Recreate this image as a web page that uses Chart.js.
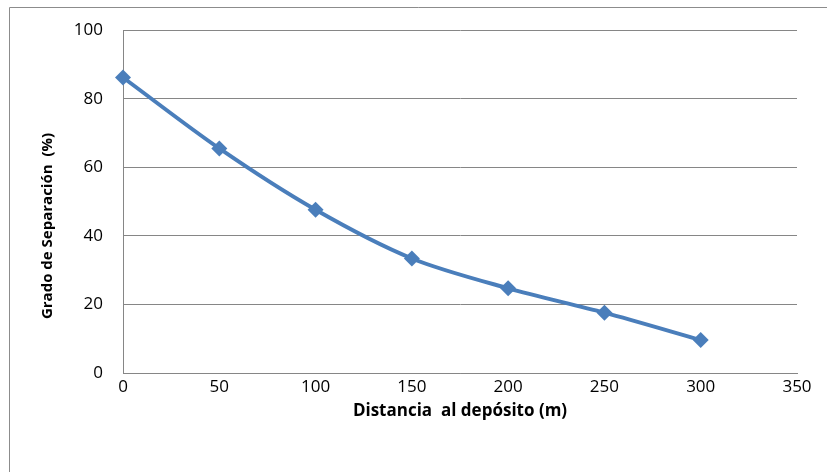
<!DOCTYPE html>
<html>
<head>
<meta charset="utf-8">
<script src="https://cdn.jsdelivr.net/npm/chart.js@4"></script>
<style>
html,body{margin:0;padding:0;background:#fff;}
#c{display:block;}
</style>
</head>
<body>
<canvas id="c" width="827" height="472"></canvas>
<script>
const distances = [0, 50, 100, 150, 200, 250, 300];
const separation = [86.2, 65.5, 47.6, 33.4, 24.7, 17.6, 9.6];
const xTitle = 'Distancia  al depósito (m)';
const yTitle = 'Grado de Separación  (%)';

const FONT = '"Open Sans", "Liberation Sans", sans-serif';

const framePlugin = {
  id: 'frame',
  beforeDraw(chart) {
    const ctx = chart.ctx;
    ctx.save();
    ctx.fillStyle = '#fff';
    ctx.fillRect(0, 0, chart.width, chart.height);
    ctx.strokeStyle = '#8c8c8c';
    ctx.lineWidth = 1;
    ctx.beginPath();
    ctx.moveTo(9.5, 480);
    ctx.lineTo(9.5, 7.5);
    ctx.lineTo(840, 7.5);
    ctx.stroke();
    ctx.restore();
  },
  afterDraw(chart) {
    const ctx = chart.ctx;
    ctx.save();
    ctx.translate(48, 226);
    ctx.rotate(-Math.PI / 2);
    ctx.fillStyle = '#000';
    ctx.font = 'bold 15px ' + FONT;
    ctx.textAlign = 'center';
    ctx.textBaseline = 'middle';
    ctx.fillText(yTitle, 0, 0);
    ctx.restore();
  }
};

new Chart(document.getElementById('c'), {
  type: 'line',
  data: {
    datasets: [{
      data: distances.map((x, i) => ({x: x, y: separation[i]})),
      borderColor: '#4a7ebb',
      backgroundColor: '#4a7ebb',
      borderWidth: 4,
      tension: 0.3,
      pointStyle: 'rectRot',
      pointRadius: 8,
      pointHoverRadius: 8,
      pointBorderWidth: 0,
      fill: false,
      clip: false
    }]
  },
  options: {
    responsive: false,
    animation: false,
    devicePixelRatio: 1,
    layout: {padding: {left: 10, right: 30, top: 29, bottom: 10}},
    plugins: {legend: {display: false}, tooltip: {enabled: false}},
    scales: {
      x: {
        type: 'linear',
        min: 0, max: 350,
        ticks: {stepSize: 50, color: '#000', font: {family: FONT, size: 17}, padding: 4},
        grid: {display: false, drawTicks: false},
        border: {display: true, color: '#868686', width: 1},
        title: {display: true, text: xTitle, color: '#000', font: {family: FONT, size: 17, weight: 'bold'}, padding: {top: 4, bottom: 41}},
        afterFit(scale) { scale.height = 89; }
      },
      y: {
        min: 0, max: 100,
        ticks: {stepSize: 20, color: '#000', font: {family: FONT, size: 17}, padding: 20},
        grid: {color: '#868686', lineWidth: 1, drawTicks: false},
        border: {display: true, color: '#868686', width: 1},
        title: {display: false},
        afterFit(scale) { scale.width = 113; }
      }
    }
  },
  plugins: [framePlugin]
});
</script>
</body>
</html>
